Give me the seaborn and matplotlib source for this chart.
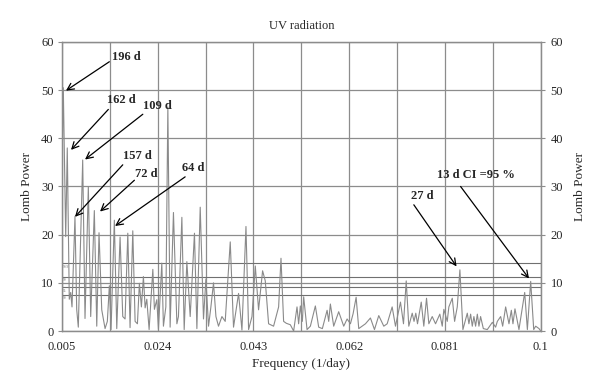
import matplotlib
matplotlib.use("Agg")
import matplotlib.pyplot as plt
import numpy as np
import pandas as pd
import seaborn as sns

# Periodogram (frequency in 1/day, Lomb power)
freq = [
    0.00500, 0.00526, 0.00574, 0.00605, 0.00645, 0.00673, 0.00699, 0.00758, 0.00792, 0.00824,
    0.00911, 0.00957, 0.01023, 0.01070, 0.01142, 0.01190, 0.01235, 0.01289, 0.01355, 0.01400,
    0.01440, 0.01474, 0.01539, 0.01587, 0.01653, 0.01706, 0.01752, 0.01806, 0.01851, 0.01905,
    0.01951, 0.01997, 0.02036, 0.02076, 0.02116, 0.02150, 0.02183, 0.02229, 0.02303, 0.02334,
    0.02382, 0.02414, 0.02481, 0.02513, 0.02561, 0.02601, 0.02646, 0.02712, 0.02780, 0.02811,
    0.02879, 0.02925, 0.02978, 0.03044, 0.03129, 0.03177, 0.03243, 0.03308, 0.03356, 0.03408,
    0.03455, 0.03507, 0.03555, 0.03606, 0.03674, 0.03739, 0.03839, 0.03904, 0.04004, 0.04071,
    0.04151, 0.04203, 0.04270, 0.04336, 0.04401, 0.04481, 0.04534, 0.04600, 0.04699, 0.04799,
    0.04846, 0.04898, 0.04952, 0.05031, 0.05097, 0.05164, 0.05196, 0.05230, 0.05270, 0.05296,
    0.05363, 0.05429, 0.05528, 0.05594, 0.05667, 0.05761, 0.05793, 0.05826, 0.05892, 0.05991,
    0.06091, 0.06158, 0.06224, 0.06277, 0.06337, 0.06389, 0.06522, 0.06621, 0.06701, 0.06786,
    0.06886, 0.06953, 0.07052, 0.07118, 0.07217, 0.07277, 0.07331, 0.07382, 0.07450, 0.07486,
    0.07521, 0.07555, 0.07629, 0.07680, 0.07734, 0.07780, 0.07847, 0.07913, 0.07998, 0.08046,
    0.08078, 0.08145, 0.08177, 0.08245, 0.08291, 0.08344, 0.08396, 0.08456, 0.08543, 0.08575,
    0.08609, 0.08642, 0.08674, 0.08708, 0.08742, 0.08774, 0.08807, 0.08861, 0.08940, 0.09040,
    0.09105, 0.09139, 0.09205, 0.09245, 0.09304, 0.09370, 0.09417, 0.09449, 0.09489, 0.09568,
    0.09682, 0.09735, 0.09801, 0.09861, 0.09900, 0.09966, 0.10000,
]
power = [
    33.0, 50.5, 19.6, 38.0, 6.6, 8.0, 5.0, 23.8, 4.5, 0.8,
    35.5, 2.6, 30.0, 3.0, 25.0, 1.0, 20.4, 4.4, 0.5, 2.0,
    9.4, 0.3, 23.0, 0.5, 19.5, 3.0, 2.5, 20.3, 0.7, 20.8,
    2.0, 1.5, 9.9, 5.0, 11.3, 4.8, 6.6, 0.3, 12.8, 4.5,
    6.5, 0.3, 14.1, 1.0, 5.0, 46.5, 0.8, 24.6, 1.5, 3.0,
    23.6, 0.3, 14.4, 3.0, 20.3, 0.5, 25.7, 2.5, 10.8, 1.0,
    5.0, 10.0, 3.0, 1.0, 3.0, 2.0, 18.5, 0.8, 7.8, 0.2,
    21.7, 0.3, 3.0, 13.5, 4.4, 12.5, 10.4, 1.5, 1.0, 5.0,
    15.1, 2.0, 1.6, 1.3, 0.0, 5.0, 1.5, 5.2, 2.0, 7.1,
    0.3, 1.0, 5.2, 0.8, 0.5, 4.3, 2.0, 5.6, 1.0, 4.0,
    1.0, 2.5, 1.5, 3.6, 7.0, 0.5, 1.5, 2.7, 0.3, 3.2,
    1.0, 1.5, 5.0, 1.0, 6.0, 1.5, 10.4, 1.0, 3.7, 2.0,
    3.7, 1.5, 6.0, 1.0, 6.8, 1.5, 3.0, 1.5, 3.5, 1.0,
    4.5, 2.0, 5.0, 6.8, 2.0, 5.0, 12.7, 0.3, 3.7, 1.5,
    3.5, 1.0, 3.0, 1.0, 3.5, 1.0, 3.0, 0.5, 0.3, 1.8,
    0.8, 2.0, 3.0, 1.0, 5.0, 1.5, 4.3, 1.5, 4.6, 0.3,
    8.0, 0.3, 10.3, 0.3, 1.0, 0.5, 0.0,
]

# Significance levels (horizontal lines)
sig_levels = [14.1, 11.2, 9.1, 7.5]
sig_labels = ["99.9", "99", "95", "90"]

# Peak annotations: label, text position, arrow tail, arrow tip (data coords)
annot_labels = ["196 d", "162 d", "109 d", "157 d", "72 d", "64 d", "27 d", "13 d CI =95 %"]
annot_text = [(0.01494, 56.9), (0.01400, 48.0), (0.02116, 46.7), (0.01706, 36.3),
              (0.01944, 32.6), (0.02880, 33.8), (0.07432, 28.0), (0.07938, 32.4)]
annot_tail = [(0.01440, 55.9), (0.01420, 46.0), (0.02104, 45.0), (0.01706, 34.5),
              (0.01937, 31.3), (0.02944, 32.0), (0.07482, 26.2), (0.08410, 30.0)]
annot_tip = [(0.00579, 49.9), (0.00679, 37.6), (0.00957, 35.6), (0.00758, 23.7),
             (0.01255, 24.8), (0.01553, 21.8), (0.08330, 13.4), (0.09767, 10.9)]

x_ticks = [0.005, 0.024, 0.043, 0.062, 0.081, 0.1]
x_tick_labels = ["0.005", "0.024", "0.043", "0.062", "0.081", "0.1"]

sns.set_style("white")
plt.rcParams["font.family"] = ["Liberation Serif", "DejaVu Serif"]
plt.rcParams["font.size"] = 9

df = pd.DataFrame({"freq": freq, "power": power})

fig = plt.figure(figsize=(6.0, 3.92), dpi=100)
ax = fig.add_axes([0.1033, 0.1556, 0.7979, 0.7373])

grid_col = "#8c8c8c"

sns.lineplot(data=df, x="freq", y="power", ax=ax, color="#8a8a8a",
             linewidth=0.8, estimator=None, sort=False, zorder=3)

ax.set_xlim(0.005, 0.1)
ax.set_ylim(0, 60)
ax.set_xticks(x_ticks)
ax.set_xticklabels(x_tick_labels)
ax.set_xticks([0.005 + 0.0095 + 0.019 * i for i in range(5)], minor=True)
ax.set_yticks(range(0, 61, 10))
ax.grid(True, which="both", axis="x", color=grid_col, linewidth=0.9)
ax.grid(True, which="major", axis="y", color=grid_col, linewidth=0.9)
ax.set_axisbelow(True)

for lvl, lab in zip(sig_levels, sig_labels):
    ax.axhline(lvl, color="#707070", linewidth=0.8, zorder=2)
    ax.text(0.0052, lvl - 0.3, lab, fontsize=2.5, color="#707070", va="top", ha="left")

for sp in ax.spines.values():
    sp.set_color(grid_col)
    sp.set_linewidth(0.9)

ax.tick_params(axis="both", which="major", length=3, color=grid_col, labelsize=9,
               pad=3, direction="out", bottom=False, left=True)
ax.tick_params(axis="x", which="minor", length=0)
ax.tick_params(axis="x", pad=4)

ax.set_xlabel("Frequency (1/day)", fontsize=9.5, labelpad=4)
ax.set_ylabel("Lomb Power", fontsize=9.5, labelpad=6)
ax.set_title("UV radiation", fontsize=9, pad=9)

ax2 = ax.twinx()
ax2.set_ylim(0, 60)
ax2.set_yticks(range(0, 61, 10))
ax2.tick_params(axis="y", length=3, color=grid_col, labelsize=9, pad=4)
ax2.set_ylabel("Lomb Power", fontsize=9.5, labelpad=8)
for sp in ax2.spines.values():
    sp.set_color(grid_col)
    sp.set_linewidth(0.9)

for lab, txt, tail, tip in zip(annot_labels, annot_text, annot_tail, annot_tip):
    ax.annotate("", xy=tip, xytext=tail,
                arrowprops=dict(arrowstyle="->", color="black", lw=0.9,
                                shrinkA=0, shrinkB=0, mutation_scale=12),
                zorder=5)
    ax.text(txt[0], txt[1], lab, fontsize=9, fontweight="bold", ha="left",
            va="center", zorder=6)

fig.savefig("out.png", dpi=100)
